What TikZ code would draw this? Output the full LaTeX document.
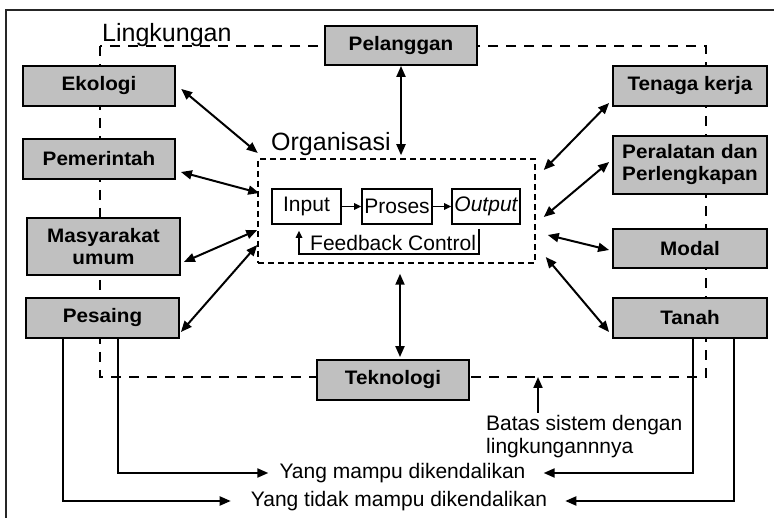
\documentclass[tikz,border=0pt]{standalone}
\usepackage{fontspec}
\setmainfont{Liberation Sans}
\newfontfamily\lblfont[FakeStretch=1.06]{Liberation Sans Bold}
\usetikzlibrary{arrows.meta,calc}
\definecolor{boxgray}{RGB}{192,192,192}

\begin{document}
\begin{tikzpicture}[x=1pt,y=-1pt,
  gbox/.style={draw, line width=1.8pt, fill=boxgray, inner sep=0pt, align=center,
    font=\lblfont\fontsize{19.5}{22}\selectfont},
  wbox/.style={draw, line width=1.6pt, fill=white, inner sep=0pt,
    minimum width=69pt, minimum height=35pt, font=\fontsize{21}{24}\selectfont},
  txt/.style={inner sep=0pt, font=\fontsize{21}{23}\selectfont},
  bigtxt/.style={inner sep=0pt, font=\fontsize{25}{28}\selectfont},
  envline/.style={line width=2pt, dash pattern=on 10pt off 8pt},
  orgline/.style={line width=1.5pt, dash pattern=on 6pt off 4pt},
  dbl/.style={line width=2pt, {Triangle[length=11pt,width=9pt]}-{Triangle[length=11pt,width=9pt]}},
  arr/.style={line width=2pt, -{Triangle[length=11pt,width=9pt]}},
  small/.style={line width=1.6pt, -{Triangle[length=7pt,width=6.5pt]}}
]
\useasboundingbox (0,0) rectangle (774,518);
\clip (0,0) rectangle (774,518);

% outer frame
\draw[line width=1.8pt, black!85] (6,10) rectangle (790,530);

% system boundary (environment)
\draw[envline] (100,46) rectangle (706,377);
\node[bigtxt, anchor=base west] (ling) at (102,42) {Lingkungan};

% organisation boundary
\node[orgline, draw, minimum width=277pt, minimum height=104pt, inner sep=0pt] (org) at (396.5,211) {};
\node[bigtxt, anchor=base west] (orgt) at (271,151) {Organisasi};

% environment elements
\node[gbox, minimum width=152pt, minimum height=39pt] (pel) at (401,45.5) {Pelanggan};
\node[gbox, minimum width=152pt, minimum height=40pt] (eko) at (99,86) {Ekologi};
\node[gbox, minimum width=152pt, minimum height=40pt] (pem) at (99,159) {Pemerintah};
\node[gbox, minimum width=153pt, minimum height=57pt] (mas) at (103.5,246.5) {Masyarakat\\umum};
\node[gbox, minimum width=153pt, minimum height=40pt] (pes) at (102.5,318) {Pesaing};
\node[gbox, minimum width=152pt, minimum height=40pt] (tek) at (393,380) {Teknologi};
\node[gbox, minimum width=154pt, minimum height=40pt] (ten) at (690,86) {Tenaga kerja};
\node[gbox, minimum width=154pt, minimum height=58pt] (per) at (690,165) {Peralatan dan\\Perlengkapan};
\node[gbox, minimum width=154pt, minimum height=39pt] (mod) at (690,248.5) {Modal};
\node[gbox, minimum width=154pt, minimum height=40pt] (tan) at (690,318) {Tanah};

% process inside the organisation
\node[wbox] (inp) at (306.5,206.5) {Input};
\node[wbox, minimum width=70pt] (pro) at (397,206.5) {Proses};
\node[wbox, minimum width=68pt] (out) at (486,206.5) {\itshape Output};
\draw[small] (inp) -- (pro);
\draw[small] (pro) -- (out);
\node[txt, anchor=base west] (fb) at (310,251) {Feedback Control};
\draw[small] ([shift={(-7pt,-4pt)}]out.south) -- ([shift={(-7pt,-29pt)}]out.south)
  -| ([shift={(-7.5pt,-6pt)}]inp.south);

% interactions with the organisation
\draw[dbl, shorten <=3pt, shorten >=2pt] ([shift={(3pt,-1pt)}]eko.east) -- ([shift={(2pt,4pt)}]org.north west);
\draw[dbl] ([shift={(5pt,-13pt)}]pem.east) -- ([shift={(2pt,18pt)}]org.west);
\draw[dbl] ([shift={(3pt,-15.5pt)}]mas.east) -- ([shift={(0pt,-19pt)}]org.west);
\draw[dbl] ([shift={(1pt,-14pt)}]pes.east) -- ([shift={(0pt,-34pt)}]org.west);
\draw[dbl] ([shift={(-3pt,-17pt)}]ten.west) -- ([shift={(8pt,41pt)}]org.east);
\draw[dbl] ([shift={(-3pt,3pt)}]per.west) -- ([shift={(8pt,-6pt)}]org.east);
\draw[dbl] ([shift={(-3pt,-1.5pt)}]mod.west) -- ([shift={(12pt,-24pt)}]org.east);
\draw[dbl] ([shift={(-3pt,-14pt)}]tan.west) -- ([shift={(10pt,-46pt)}]org.east);
\draw[dbl, shorten >=3pt] (pel.south) -- (pel.south |- org.north);
\draw[dbl, shorten <=2pt, shorten >=10pt] ([xshift=7pt]tek.north) -- ([xshift=7pt]tek.north |- org.south);

% boundary note
\node[txt, anchor=north west, align=left] (batas) at (486,414.7) {Batas sistem dengan\\lingkungannnya};
\coordinate (bnd) at (538,377);
\draw[arr, shorten <=2pt] (batas.north west -| bnd) -- (bnd);

% controllable / uncontrollable factors
\node[txt] (mampu) at (402.5,473) {Yang mampu dikendalikan};
\node[txt] (tidak) at (399,501) {Yang tidak mampu dikendalikan};
\draw[arr, shorten >=11pt] ([xshift=15.5pt]pes.south) |- (mampu.west);
\draw[arr, shorten >=20pt] ([xshift=-39.5pt]pes.south) |- (tidak.west);
\draw[arr, shorten >=18pt] ([xshift=3pt]tan.south) |- (mampu.east);
\draw[arr, shorten >=18pt] ([xshift=44pt]tan.south) |- (tidak.east);
\end{tikzpicture}
\end{document}
